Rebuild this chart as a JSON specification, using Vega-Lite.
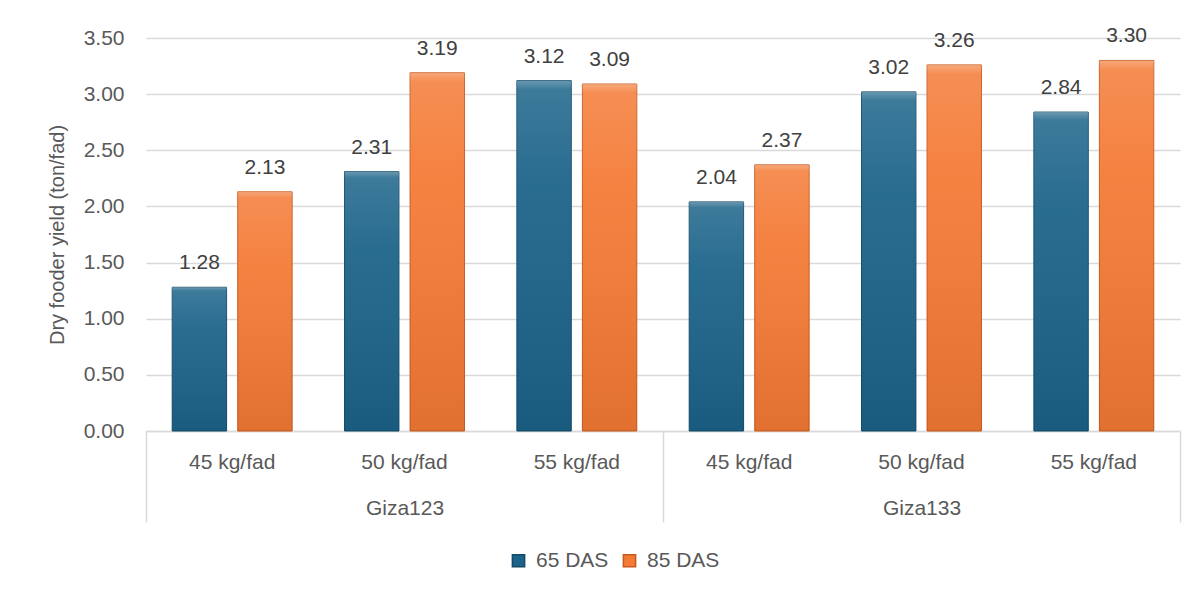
{
  "$schema": "https://vega.github.io/schema/vega-lite/v6.json",
  "width": 1034,
  "height": 393,
  "autosize": "none",
  "padding": {"left": 146, "top": 38, "right": 21, "bottom": 161},
  "background": "white",
  "config": {
    "font": "Liberation Sans",
    "view": {"stroke": null},
    "axis": {"labelFont": "Liberation Sans", "labelColor": "#595959", "titleColor": "#595959", "labelFontSize": 21, "titleFontSize": 20, "titleFontWeight": "normal"},
    "legend": {"labelFont": "Liberation Sans", "labelFontSize": 21, "labelColor": "#595959"}
  },
  "data": {
    "values": [
      {"Variety": "Giza123", "Dose": "45 kg/fad", "Group": "Giza123|45 kg/fad", "Series": "65 DAS", "Value": 1.28},
      {"Variety": "Giza123", "Dose": "45 kg/fad", "Group": "Giza123|45 kg/fad", "Series": "85 DAS", "Value": 2.13},
      {"Variety": "Giza123", "Dose": "50 kg/fad", "Group": "Giza123|50 kg/fad", "Series": "65 DAS", "Value": 2.31},
      {"Variety": "Giza123", "Dose": "50 kg/fad", "Group": "Giza123|50 kg/fad", "Series": "85 DAS", "Value": 3.19},
      {"Variety": "Giza123", "Dose": "55 kg/fad", "Group": "Giza123|55 kg/fad", "Series": "65 DAS", "Value": 3.12},
      {"Variety": "Giza123", "Dose": "55 kg/fad", "Group": "Giza123|55 kg/fad", "Series": "85 DAS", "Value": 3.09},
      {"Variety": "Giza133", "Dose": "45 kg/fad", "Group": "Giza133|45 kg/fad", "Series": "65 DAS", "Value": 2.04},
      {"Variety": "Giza133", "Dose": "45 kg/fad", "Group": "Giza133|45 kg/fad", "Series": "85 DAS", "Value": 2.37},
      {"Variety": "Giza133", "Dose": "50 kg/fad", "Group": "Giza133|50 kg/fad", "Series": "65 DAS", "Value": 3.02},
      {"Variety": "Giza133", "Dose": "50 kg/fad", "Group": "Giza133|50 kg/fad", "Series": "85 DAS", "Value": 3.26},
      {"Variety": "Giza133", "Dose": "55 kg/fad", "Group": "Giza133|55 kg/fad", "Series": "65 DAS", "Value": 2.84},
      {"Variety": "Giza133", "Dose": "55 kg/fad", "Group": "Giza133|55 kg/fad", "Series": "85 DAS", "Value": 3.30}
    ]
  },
  "layer": [
    {
      "encoding": {
        "x": {
          "field": "Group", "type": "nominal", "sort": null,
          "scale": {"paddingInner": 0, "paddingOuter": 0},
          "axis": {"title": null, "labelExpr": "split(datum.label, '|')[1]", "labelAngle": 0, "ticks": false, "labelPadding": 20, "domainColor": "#d9d9d9", "domainWidth": 1.5, "grid": false}
        },
        "xOffset": {"field": "Series", "type": "nominal", "scale": {"paddingInner": 0.17, "paddingOuter": 0.4}},
        "y": {
          "field": "Value", "type": "quantitative",
          "scale": {"domain": [0, 3.5]},
          "axis": {"title": "Dry fooder yield (ton/fad)", "values": [0, 0.5, 1, 1.5, 2, 2.5, 3, 3.5], "format": ".2f", "ticks": false, "domain": false, "gridColor": "#d9d9d9", "gridWidth": 1.5, "labelPadding": 22, "titlePadding": 16}
        }
      },
      "layer": [
        {
          "mark": {"type": "bar", "strokeWidth": 1},
          "encoding": {
            "fill": {"field": "Series", "type": "nominal", "scale": {"range": ["#1b6389", "#f47a35"]}, "legend": {"title": null, "orient": "none", "legendX": 362, "legendY": 512, "direction": "horizontal", "symbolType": "square", "symbolSize": 150, "columnPadding": 10, "labelOffset": 7}},
            "stroke": {"field": "Series", "type": "nominal", "scale": {"range": ["#134a68", "#c9581c"]}}
          }
        },
        {
          "mark": {
            "type": "bar",
            "color": {"gradient": "linear", "x1": 0, "y1": 0, "x2": 0, "y2": 1, "stops": [
              {"offset": 0, "color": "rgba(255,255,255,0.35)"},
              {"offset": 0.025, "color": "rgba(255,255,255,0.15)"},
              {"offset": 0.3, "color": "rgba(255,255,255,0.06)"},
              {"offset": 1, "color": "rgba(0,0,0,0.08)"}
            ]}
          }
        },
        {
          "mark": {"type": "text", "baseline": "middle", "dy": -24, "fontSize": 21, "color": "#404040", "font": "Liberation Sans"},
          "encoding": {"text": {"field": "Value", "type": "quantitative", "format": ".2f"}}
        }
      ]
    },
    {
      "mark": {"type": "tick", "opacity": 0},
      "encoding": {
        "x": {
          "field": "Variety", "type": "nominal", "sort": null,
          "scale": {"paddingInner": 0, "paddingOuter": 0},
          "axis": {"orient": "bottom", "title": null, "labelAngle": 0, "tickBand": "extent", "tickSize": 91, "tickColor": "#d9d9d9", "tickWidth": 1.5, "domain": false, "labelPadding": -25, "grid": false}
        },
        "y": {"field": "Value", "type": "quantitative"}
      }
    }
  ],
  "resolve": {"scale": {"x": "independent"}}
}
